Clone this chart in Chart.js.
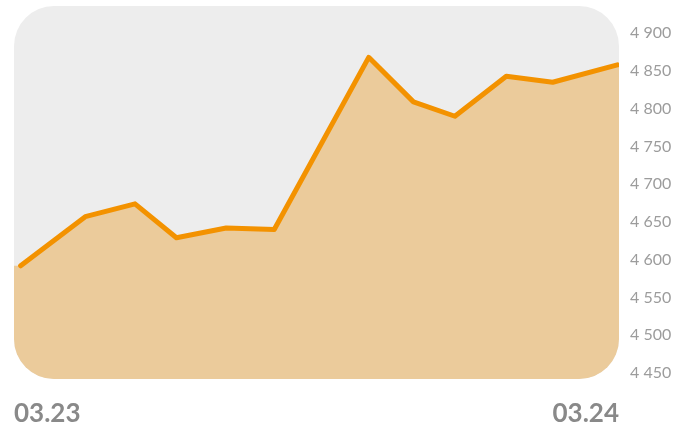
<!DOCTYPE html>
<html>
<head>
<meta charset="utf-8">
<script src="https://cdn.jsdelivr.net/npm/chart.js@4"></script>
<style>
  html, body { margin: 0; padding: 0; background: #fff; }
  #wrap { width: 687px; height: 429px; }
</style>
</head>
<body>
<div id="wrap"><canvas id="chart"></canvas></div>
<script>
  "use strict";

  // días desde el inicio del periodo (03.23 -> 03.24)
  const xStart = 0;
  const xEnd = 365;
  const days = [4, 43, 73, 98, 128, 157, 214, 241, 266, 297, 325, 364];
  const values = [4592, 4657, 4674, 4629, 4642, 4640, 4868, 4809, 4790, 4843, 4835, 4858];
  const xLabels = ["03.23", "03.24"];
  const yTicks = [4450, 4500, 4550, 4600, 4650, 4700, 4750, 4800, 4850, 4900];

  const points = days.map((d, i) => ({x: d, y: values[i]}));
  // el relleno se prolonga hasta los bordes del área
  const fillPoints = [{x: xStart, y: values[0]}, ...points, {x: xEnd, y: values[values.length - 1]}];

  function roundRect(ctx, a, r) {
    ctx.beginPath();
    ctx.roundRect(a.left, a.top, a.right - a.left, a.bottom - a.top, r);
  }

  const roundedArea = {
    id: "roundedArea",
    beforeDraw(chart) {
      const ctx = chart.ctx;
      ctx.save();
      roundRect(ctx, chart.chartArea, 40);
      ctx.fillStyle = "#ededed";
      ctx.fill();
      ctx.restore();
    },
    beforeDatasetsDraw(chart) {
      chart.ctx.save();
      roundRect(chart.ctx, chart.chartArea, 40);
      chart.ctx.clip();
    },
    afterDatasetsDraw(chart) {
      chart.ctx.restore();
    },
  };

  new Chart(document.getElementById("chart").getContext("2d"), {
    type: "line",
    data: {
      datasets: [
        {
          data: points,
          borderColor: "#f39200",
          borderWidth: 5,
          borderCapStyle: "round",
          borderJoinStyle: "round",
          pointRadius: 0,
          fill: false,
          tension: 0,
        },
        {
          data: fillPoints,
          borderWidth: 0,
          pointRadius: 0,
          backgroundColor: "#ebcb9b",
          fill: "start",
          tension: 0,
        },
      ],
    },
    options: {
      responsive: true,
      maintainAspectRatio: false,
      animation: false,
      layout: {padding: {left: 14, top: 6, right: 0, bottom: 0}},
      plugins: {legend: {display: false}, tooltip: {enabled: false}},
      scales: {
        x: {
          type: "linear",
          min: xStart,
          max: xEnd,
          grid: {display: false},
          border: {display: false},
          afterBuildTicks: (axis) => {
            axis.ticks = [{value: xStart}, {value: xEnd}];
          },
          ticks: {
            align: "inner",
            maxRotation: 0,
            padding: 11,
            color: "#898989",
            font: {family: "Lato", size: 26, weight: "bold"},
            callback: (v) => (v === xStart ? xLabels[0] : xLabels[1]),
          },
          afterFit: (axis) => {
            axis.height = 50;
            axis.paddingLeft = 0;
            axis.paddingRight = 0;
          },
        },
        y: {
          position: "right",
          min: 4442,
          max: 4936,
          grid: {display: false},
          border: {display: false},
          afterBuildTicks: (axis) => {
            axis.ticks = yTicks.map((v) => ({value: v}));
          },
          ticks: {
            padding: 3,
            color: "#9c9c9c",
            font: {family: "Lato", size: 16, weight: "normal"},
            callback: (v) => String(v).replace(/\B(?=(\d{3})+(?!\d))/g, " "),
          },
          afterFit: (axis) => {
            axis.width = 68;
            axis.paddingTop = 0;
            axis.paddingBottom = 0;
          },
        },
      },
    },
    plugins: [roundedArea],
  });
</script>
</body>
</html>
